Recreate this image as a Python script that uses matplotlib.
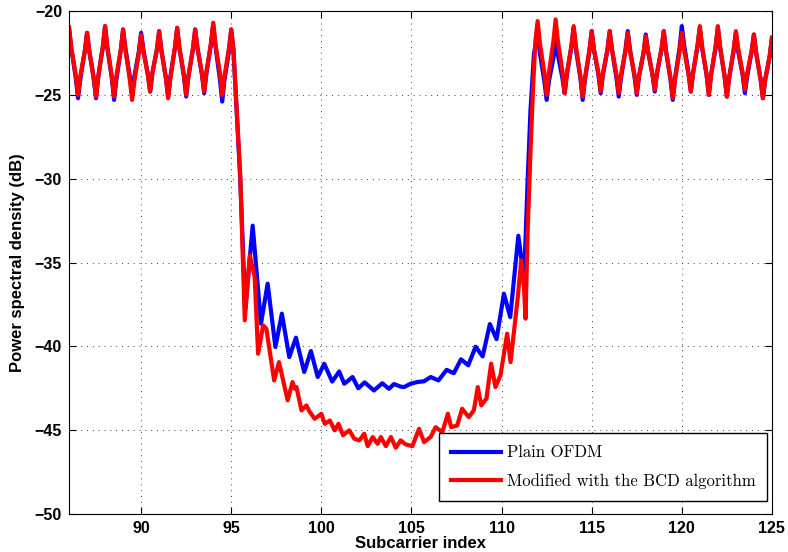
import numpy as np
import matplotlib
matplotlib.use("Agg")
import matplotlib.pyplot as plt

# sample grid of the two in-band (oscillating) parts, 1/8 subcarrier spacing
x_left = np.arange(86.0, 95.001, 0.125)
x_right = np.arange(112.0, 125.001, 0.125)

# Plain OFDM spectrum (blue)
plain_left = [
    -21.0, -22.2, -23.1, -24.0, -25.2, -24.1, -23.2, -22.4,
    -21.3, -22.4, -23.2, -24.1, -25.2, -23.9, -23.0, -22.2,
    -20.9, -22.2, -23.1, -24.0, -25.3, -24.1, -23.2, -22.3,
    -21.1, -22.2, -23.05, -23.9, -25.0, -23.9, -23.15, -22.4,
    -21.3, -22.3, -23.05, -23.8, -24.8, -23.7, -23.0, -22.3,
    -21.2, -22.3, -23.15, -24.0, -25.1, -23.9, -23.05, -22.2,
    -21.0, -22.2, -23.05, -23.9, -25.1, -23.9, -23.1, -22.3,
    -21.1, -22.2, -23.0, -23.8, -24.9, -23.7, -22.85, -22.0,
    -20.8, -22.1, -23.1, -24.1, -25.4, -24.1, -23.25, -22.4,
    -21.1,
]
x_plain_mid = [
    95.125, 95.25, 95.5, 95.78, 96.19, 96.65, 97.02, 97.45, 97.81, 98.22, 98.59,
    99.05, 99.42, 99.8, 100.16, 100.6, 100.99, 101.27, 101.73, 102.05, 102.4,
    102.92, 103.38, 103.75, 104.03, 104.4, 104.59, 104.95, 105.32, 105.7, 106.07,
    106.5, 106.95, 107.35, 107.75, 108.15, 108.56, 108.95, 109.35, 109.72, 110.13,
    110.48, 110.93, 111.25, 111.45, 111.6, 111.8,
]
plain_mid = [
    -22.4, -24.9, -30.0, -37.8, -32.8, -38.65, -36.26, -40.04, -38.05, -40.64, -39.48,
    -41.53, -40.28, -41.83, -41.04, -42.1, -41.5, -42.23, -41.83, -42.5, -42.15,
    -42.63, -42.2, -42.53, -42.25, -42.4, -42.43, -42.23, -42.13, -42.08, -41.83,
    -42.03, -41.4, -41.6, -40.77, -41.13, -40.02, -40.6, -38.67, -39.57, -36.86,
    -38.25, -33.4, -36.0, -30.0, -26.0, -22.5,
]
plain_right = [
    -21.4, -22.5, -23.35, -24.2, -25.3, -24.2, -23.5, -22.8,
    -21.7, -22.6, -23.3, -24.0, -24.9, -23.8, -22.95, -22.1,
    -21.0, -22.3, -23.15, -24.0, -25.3, -24.1, -23.25, -22.4,
    -21.2, -22.3, -23.05, -23.8, -24.9, -23.8, -23.05, -22.3,
    -21.2, -22.3, -23.15, -24.0, -25.1, -24.0, -23.15, -22.3,
    -21.2, -22.3, -23.1, -23.9, -25.0, -23.9, -23.2, -22.5,
    -21.4, -22.4, -23.1, -23.8, -24.8, -23.7, -23.0, -22.3,
    -21.2, -22.4, -23.25, -24.1, -25.3, -24.0, -23.1, -22.2,
    -20.9, -22.0, -22.85, -23.7, -24.8, -23.7, -22.9, -22.1,
    -21.0, -22.2, -23.0, -23.8, -25.0, -23.8, -23.0, -22.2,
    -21.0, -22.2, -23.05, -23.9, -25.1, -24.0, -23.2, -22.4,
    -21.3, -22.4, -23.1, -23.8, -24.9, -23.9, -23.15, -22.4,
    -21.4, -22.5, -23.3, -24.1, -25.2, -24.1, -23.4, -22.7,
    -21.6,
]

# Modified with the BCD algorithm (red)
bcd_left = [
    -21.0, -22.2, -23.0, -23.8, -25.0, -23.9, -23.15, -22.4,
    -21.3, -22.4, -23.2, -24.0, -25.1, -23.9, -23.0, -22.1,
    -20.9, -22.1, -23.0, -23.9, -25.1, -23.9, -23.1, -22.3,
    -21.1, -22.3, -23.2, -24.1, -25.3, -24.2, -23.35, -22.5,
    -21.4, -22.4, -23.1, -23.8, -24.8, -23.7, -23.0, -22.3,
    -21.2, -22.4, -23.2, -24.0, -25.2, -24.0, -23.1, -22.2,
    -21.0, -22.2, -23.0, -23.8, -25.0, -23.9, -23.05, -22.2,
    -21.1, -22.2, -22.95, -23.7, -24.8, -23.6, -22.75, -21.9,
    -20.7, -22.0, -22.85, -23.7, -25.0, -23.9, -23.05, -22.2,
    -21.1,
]
x_bcd_mid = [
    95.125, 95.25, 95.5, 95.75, 96.03, 96.3, 96.49, 96.77, 96.95, 97.38, 97.65,
    98.13, 98.4, 98.53, 98.62, 98.9, 99.17, 99.35, 99.63, 100.0, 100.19, 100.47,
    100.74, 100.95, 101.2, 101.55, 101.83, 102.11, 102.38, 102.57, 102.85, 103.12,
    103.3, 103.58, 103.86, 104.13, 104.4, 104.68, 105.05, 105.42, 105.7, 106.07,
    106.34, 106.71, 107.02, 107.2, 107.54, 107.81, 108.18, 108.46, 108.68, 108.87,
    109.16, 109.42, 109.66, 109.94, 110.31, 110.5, 110.9, 111.09, 111.24, 111.33,
    111.45, 111.6, 111.75, 111.875,
]
bcd_mid = [
    -22.3, -24.8, -29.8, -38.45, -34.57, -35.86, -40.44, -38.75, -38.95, -42.03, -40.94,
    -43.22, -42.13, -42.53, -42.43, -43.82, -43.52, -43.9, -44.32, -44.02, -44.62, -44.42,
    -45.01, -44.62, -45.3, -45.01, -45.51, -45.61, -45.21, -45.95, -45.41, -45.81,
    -45.41, -45.95, -45.41, -46.05, -45.61, -45.85, -45.95, -44.92, -45.71, -45.4,
    -44.82, -45.12, -44.02, -44.82, -44.72, -43.72, -44.22, -43.82, -42.43, -43.52,
    -43.12, -41.03, -42.43, -41.73, -39.24, -40.94, -37.06, -34.87, -36.46, -38.35,
    -33.0, -28.5, -24.5, -21.8,
]
bcd_right = [
    -20.6, -21.9, -22.8, -23.7, -25.0, -23.7, -22.75, -21.8,
    -20.5, -21.8, -22.7, -23.6, -24.9, -23.7, -22.9, -22.1,
    -20.9, -22.1, -23.0, -23.9, -25.1, -24.0, -23.15, -22.3,
    -21.2, -22.3, -23.0, -23.7, -24.8, -23.7, -23.0, -22.3,
    -21.2, -22.3, -23.05, -23.8, -24.9, -23.8, -23.1, -22.4,
    -21.3, -22.4, -23.1, -23.8, -24.9, -23.9, -23.2, -22.5,
    -21.5, -22.4, -23.1, -23.8, -24.7, -23.7, -22.95, -22.2,
    -21.2, -22.4, -23.2, -24.0, -25.2, -24.1, -23.25, -22.4,
    -21.3, -22.3, -23.05, -23.8, -24.8, -23.7, -22.85, -22.0,
    -20.9, -22.1, -22.95, -23.8, -25.0, -23.8, -22.95, -22.1,
    -20.9, -22.1, -23.0, -23.9, -25.1, -24.0, -23.15, -22.3,
    -21.2, -22.2, -22.95, -23.7, -24.7, -23.7, -23.05, -22.4,
    -21.4, -22.5, -23.3, -24.1, -25.2, -24.1, -23.4, -22.7,
    -21.6,
]

xticks = [90, 95, 100, 105, 110, 115, 120, 125]
yticks = [-50, -45, -40, -35, -30, -25, -20]

x_plain = np.concatenate([x_left, x_plain_mid, x_right])
y_plain = np.concatenate([plain_left, plain_mid, plain_right])
x_bcd = np.concatenate([x_left, x_bcd_mid, x_right])
y_bcd = np.concatenate([bcd_left, bcd_mid, bcd_right])

plt.rcParams["font.family"] = ["Liberation Sans", "DejaVu Sans"]
plt.rcParams["font.weight"] = "bold"

fig = plt.figure(figsize=(7.88, 5.52), dpi=100)
ax = fig.add_axes([0.0876, 0.0688, 0.892, 0.9112])

ax.plot(x_plain, y_plain, color="#0000ff", lw=3.0, label="Plain OFDM")
ax.plot(x_bcd, y_bcd, color="#ff0000", lw=3.0, label="Modified with the BCD algorithm")

ax.set_xlim(86, 125)
ax.set_ylim(-50, -20)
ax.set_xticks(xticks)
ax.set_yticks(yticks)
ax.tick_params(direction="in", top=True, right=True, length=5, width=0.8,
               labelsize=11.5, pad=5)
for lbl in ax.get_xticklabels() + ax.get_yticklabels():
    lbl.set_fontweight("bold")
ax.grid(True, color="0.25", linestyle=(0, (1, 5)), linewidth=0.7)
for sp in ax.spines.values():
    sp.set_linewidth(0.8)

ax.set_xlabel("Subcarrier index", fontsize=12, fontweight="bold", labelpad=0)
ax.set_ylabel("Power spectral density (dB)", fontsize=12, fontweight="bold", labelpad=7)

leg = ax.legend(loc="lower right", bbox_to_anchor=(0.993, 0.026), borderaxespad=0,
                prop={"family": "cmr10", "size": 12, "weight": "normal"},
                fancybox=False, framealpha=1, edgecolor="k",
                handlelength=3.0, handletextpad=0.35, labelspacing=0.78,
                borderpad=0.7)
leg.get_frame().set_linewidth(1.0)

fig.savefig("out.png", dpi=100)
